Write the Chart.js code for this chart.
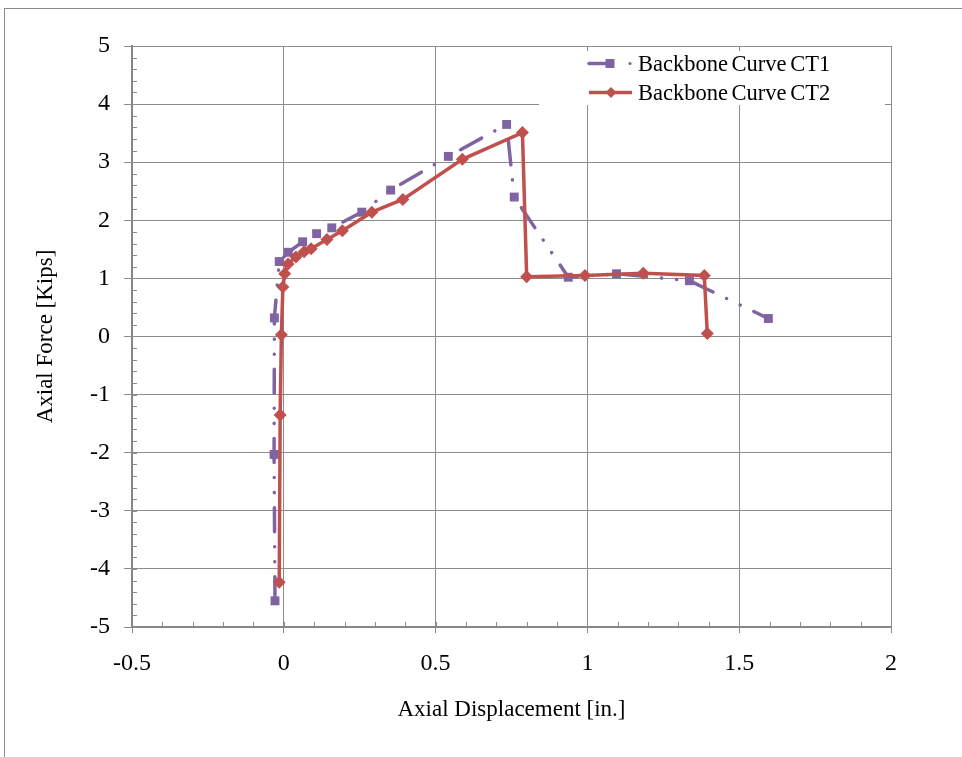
<!DOCTYPE html>
<html>
<head>
<meta charset="utf-8">
<script src="https://cdn.jsdelivr.net/npm/chart.js@4/dist/chart.umd.min.js"></script>
<style>
    body { margin: 0; background: #fff; }
    #wrap { position: relative; width: 962px; height: 757px; overflow: hidden; }
    #frame { position: absolute; left: 4px; top: 8px; width: 1000px; height: 800px;
             border-left: 1px solid #8c8c8c; border-top: 1px solid #8c8c8c; }
    #graph { position: absolute; left: 0; top: 0; }
    #legend { position: absolute; left: 539px; top: 51px; width: 346px; height: 54px;
              background: #fff; font-family: "Liberation Serif", serif; font-size: 22.5px; }
    .row { position: absolute; left: 0; height: 29px; line-height: 29px; }
    .row svg { position: absolute; left: 44px; top: 0; }
    .row span { position: absolute; left: 99px; white-space: nowrap; word-spacing: -2px; }
</style>
</head>
<body>
<div id="wrap">
    <div id="frame"></div>
    <canvas id="graph" width="962" height="757"></canvas>
    <div id="legend">
        <div class="row" style="top:-2px">
            <svg width="60" height="29">
                <line x1="6" y1="14.5" x2="28" y2="14.5" stroke="#8064A2" stroke-width="3.5" stroke-linecap="round"/>
                <rect x="22.5" y="10" width="9" height="9" fill="#8064A2"/>
                <circle cx="47" cy="14.5" r="1.6" fill="#8064A2"/>
            </svg>
            <span>Backbone Curve CT1</span>
        </div>
        <div class="row" style="top:27px">
            <svg width="60" height="29">
                <line x1="6" y1="14.5" x2="49" y2="14.5" stroke="#C0504D" stroke-width="3.5"/>
                <polygon points="28,9 33.5,14.5 28,20 22.5,14.5" fill="#C0504D"/>
            </svg>
            <span>Backbone Curve CT2</span>
        </div>
    </div>
</div>
<script>
// CT1 backbone (displacement in., force kips)
const ct1Disp = [-0.029, -0.032, -0.031, -0.015, 0.015, 0.062, 0.108, 0.158, 0.257, 0.352, 0.542, 0.734, 0.759, 0.937, 1.096, 1.336, 1.596];
const ct1Force = [-4.55, -2.03, 0.32, 1.29, 1.45, 1.63, 1.77, 1.87, 2.14, 2.52, 3.10, 3.65, 2.40, 1.02, 1.08, 0.96, 0.31];

// CT2 backbone
const ct2Disp = [-0.015, -0.012, -0.008, -0.003, 0.003, 0.014, 0.040, 0.067, 0.090, 0.142, 0.193, 0.290, 0.392, 0.588, 0.786, 0.800, 0.992, 1.184, 1.385, 1.395];
const ct2Force = [-4.23, -1.35, 0.03, 0.85, 1.08, 1.25, 1.37, 1.46, 1.51, 1.67, 1.82, 2.14, 2.36, 3.05, 3.51, 1.03, 1.05, 1.09, 1.05, 0.05];

const xMin = -0.5, xMax = 2, xStep = 0.5, xMinorStep = 0.1;
const yMin = -5, yMax = 5, yStep = 1, yMinorStep = 0.2;

const serif = '"Liberation Serif", "Times New Roman", serif';
const gridColor = '#8c8c8c';

function toPoints(xs, ys) {
    return xs.map((x, i) => ({ x: x, y: ys[i] }));
}

// small inner ticks between the major ones
const minorTicks = {
    id: 'minorTicks',
    beforeDatasetsDraw(chart) {
        const ctx = chart.ctx;
        const xs = chart.scales.x;
        const ys = chart.scales.y;
        const area = chart.chartArea;
        ctx.save();
        ctx.strokeStyle = gridColor;
        ctx.lineWidth = 1;
        ctx.beginPath();
        for (let v = xMin; v <= xMax + 1e-9; v += xMinorStep) {
            const px = Math.round(xs.getPixelForValue(v)) + 0.5;
            ctx.moveTo(px, area.bottom);
            ctx.lineTo(px, area.bottom - 5);
        }
        for (let v = yMin; v <= yMax + 1e-9; v += yMinorStep) {
            const py = Math.round(ys.getPixelForValue(v)) + 0.5;
            ctx.moveTo(area.left, py);
            ctx.lineTo(area.left + 5, py);
        }
        ctx.stroke();
        ctx.restore();
    }
};

new Chart(document.getElementById('graph'), {
    type: 'scatter',
    data: {
        datasets: [
            {
                label: 'Backbone Curve CT1',
                data: toPoints(ct1Disp, ct1Force),
                showLine: true,
                borderColor: '#8064A2',
                backgroundColor: '#8064A2',
                borderWidth: 3.5,
                borderDash: [24, 15, 0.1, 15, 0.1, 15],
                borderCapStyle: 'round',
                pointStyle: 'rect',
                pointRadius: 6.3,
                pointBorderWidth: 0,
                order: 2
            },
            {
                label: 'Backbone Curve CT2',
                data: toPoints(ct2Disp, ct2Force),
                showLine: true,
                borderColor: '#C0504D',
                backgroundColor: '#C0504D',
                borderWidth: 3.5,
                pointStyle: 'rectRot',
                pointRadius: 6.5,
                pointBorderWidth: 0,
                order: 1
            }
        ]
    },
    options: {
        responsive: false,
        animation: false,
        layout: { padding: { top: 46, right: 71, left: 0, bottom: 0 } },
        plugins: {
            legend: { display: false },
            tooltip: { enabled: false }
        },
        scales: {
            x: {
                type: 'linear',
                min: xMin,
                max: xMax,
                afterFit(scale) { scale.height = 130; },
                ticks: {
                    stepSize: xStep,
                    color: '#000',
                    padding: 16,
                    font: { family: serif, size: 24 },
                    callback: (v) => String(Math.round(v * 10) / 10)
                },
                grid: { color: gridColor, lineWidth: 1, tickLength: 6 },
                border: { color: '#868686', width: 2 },
                title: {
                    display: true,
                    text: 'Axial Displacement [in.]',
                    color: '#000',
                    font: { family: serif, size: 23 },
                    padding: { top: 0, bottom: 33 }
                }
            },
            y: {
                type: 'linear',
                min: yMin,
                max: yMax,
                afterFit(scale) { scale.width = 132; },
                ticks: {
                    stepSize: yStep,
                    color: '#000',
                    padding: 14,
                    font: { family: serif, size: 24 }
                },
                grid: { color: gridColor, lineWidth: 1, tickLength: 8 },
                border: { color: '#868686', width: 2 },
                title: {
                    display: true,
                    text: 'Axial Force [Kips]',
                    color: '#000',
                    font: { family: serif, size: 23 },
                    padding: { top: 32, bottom: 0 }
                }
            }
        }
    },
    plugins: [minorTicks]
});
</script>
</body>
</html>
